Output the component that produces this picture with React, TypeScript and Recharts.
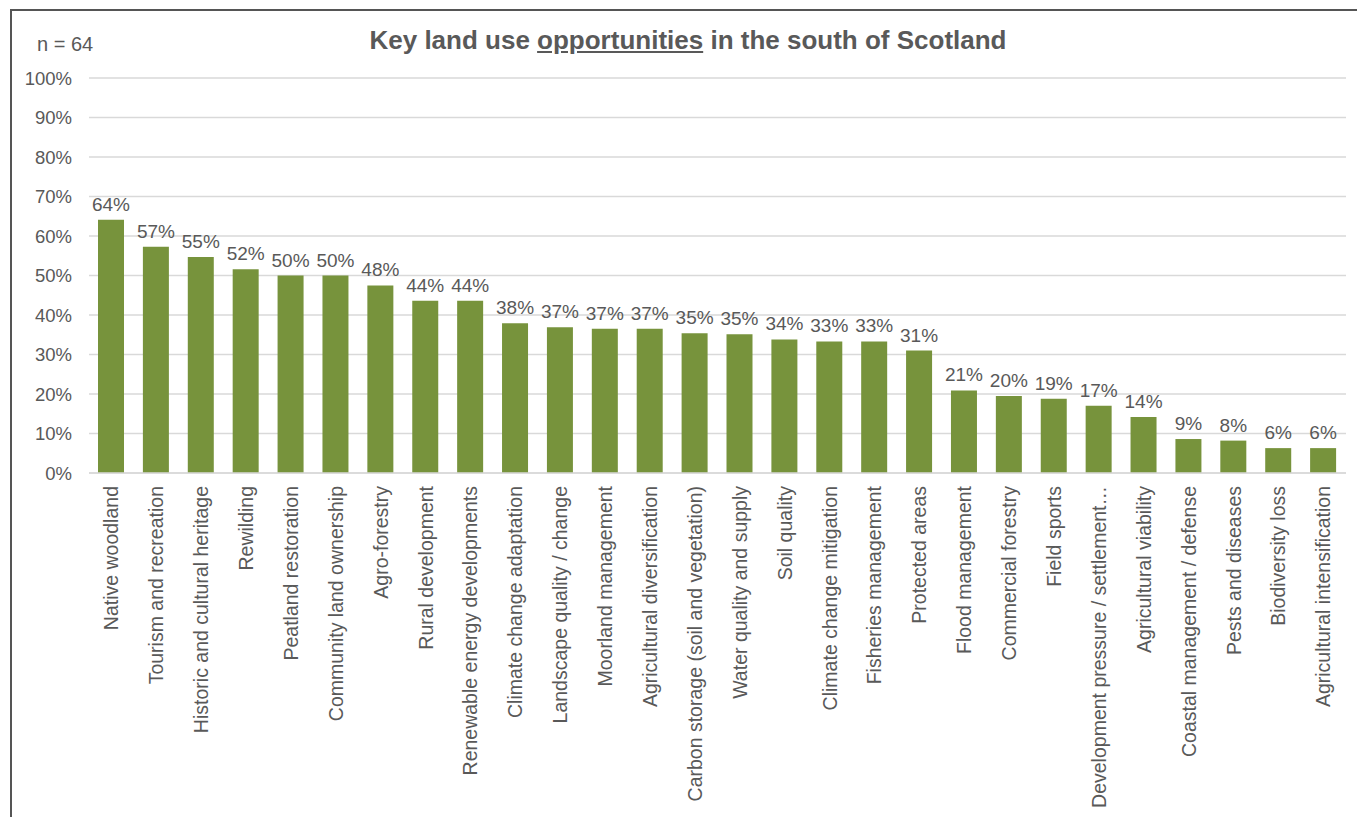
import React from "react";
import { BarChart, Bar, XAxis, YAxis, CartesianGrid, LabelList } from "recharts";

const categories = [
  "Native woodland",
  "Tourism and recreation",
  "Historic and cultural heritage",
  "Rewilding",
  "Peatland restoration",
  "Community land ownership",
  "Agro-forestry",
  "Rural development",
  "Renewable energy developments",
  "Climate change adaptation",
  "Landscape quality / change",
  "Moorland management",
  "Agricultural diversification",
  "Carbon storage (soil and vegetation)",
  "Water quality and supply",
  "Soil quality",
  "Climate change mitigation",
  "Fisheries management",
  "Protected areas",
  "Flood management",
  "Commercial forestry",
  "Field sports",
  "Development pressure / settlement…",
  "Agricultural viability",
  "Coastal management / defense",
  "Pests and diseases",
  "Biodiversity loss",
  "Agricultural intensification",
];

const values = [
  64.1, 57.3, 54.7, 51.6, 50.0, 50.0, 47.5, 43.6, 43.6, 37.9, 36.9, 36.5, 36.5, 35.4,
  35.1, 33.8, 33.3, 33.3, 31.0, 20.9, 19.5, 18.8, 17.0, 14.2, 8.6, 8.2, 6.3, 6.3,
];

const yTicks = [0, 10, 20, 30, 40, 50, 60, 70, 80, 90, 100];

const data = categories.map((name, i) => ({ name, value: values[i] }));

const FONT = "'Liberation Sans', Arial, sans-serif";
const TEXT = "#595959";

const XTick = (props: any) => {
  const { x, y, payload } = props;
  return (
    <g transform={`translate(${x},${y})`}>
      <text
        transform="rotate(-90)"
        x={0}
        y={0}
        dy="0.35em"
        textAnchor="end"
        fill={TEXT}
        fontSize={19.5}
        fontFamily={FONT}
      >
        {payload.value}
      </text>
    </g>
  );
};

export default function App() {
  return (
    <div
      style={{
        position: "absolute",
        left: 0,
        top: 0,
        width: 1357,
        height: 817,
        background: "#fff",
        fontFamily: FONT,
        overflow: "hidden",
      }}
    >
      <div
        style={{
          position: "absolute",
          left: 10,
          top: 9,
          width: 1357,
          height: 817,
          borderLeft: "2px solid #555",
          borderTop: "2px solid #555",
        }}
      />
      <div
        style={{
          position: "absolute",
          left: 37,
          top: 33,
          fontSize: 20,
          color: TEXT,
          whiteSpace: "nowrap",
        }}
      >
        n = 64
      </div>
      <div
        style={{
          position: "absolute",
          left: 0,
          width: 1376,
          top: 25,
          textAlign: "center",
          fontSize: 26,
          fontWeight: "bold",
          color: TEXT,
          whiteSpace: "nowrap",
        }}
      >
        Key land use <span style={{ textDecoration: "underline" }}>opportunities</span> in the
        south of Scotland
      </div>
      <div style={{ position: "absolute", left: 0, top: 0 }}>
        <BarChart
          width={1357}
          height={817}
          data={data}
          margin={{ top: 78, right: 11, left: 0, bottom: 0 }}
          barSize={26}
        >
          <CartesianGrid vertical={false} stroke="#d9d9d9" strokeWidth={1.3} />
          <XAxis
            dataKey="name"
            interval={0}
            height={344}
            tick={<XTick />}
            tickLine={false}
            axisLine={{ stroke: "#d9d9d9", strokeWidth: 1.3 }}
            tickSize={0}
            tickMargin={13}
          />
          <YAxis
            domain={[0, 100]}
            ticks={yTicks}
            width={89}
            axisLine={false}
            tickLine={false}
            tickSize={0}
            tickMargin={17}
            tickFormatter={(v: number) => `${v}%`}
            tick={{ fill: TEXT, fontSize: 18.5, fontFamily: FONT }}
          />
          <Bar dataKey="value" fill="#77933C" isAnimationActive={false}>
            <LabelList
              dataKey="value"
              position="top"
              offset={9}
              formatter={(v: any) => `${Math.round(Number(v))}%`}
              style={{ fill: TEXT, fontSize: 19, fontFamily: FONT }}
            />
          </Bar>
        </BarChart>
      </div>
    </div>
  );
}
